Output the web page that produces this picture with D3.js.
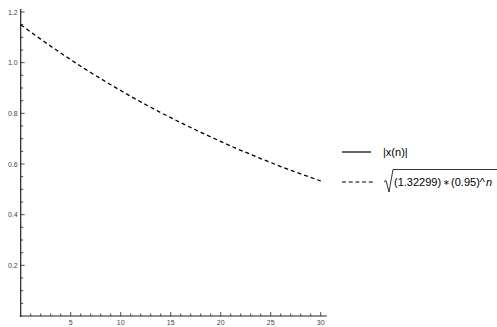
<!DOCTYPE html>
<html>
<head>
<meta charset="utf-8">
<script src="https://cdn.jsdelivr.net/npm/d3@7"></script>
<style>
  body { margin: 0; background: #fff; }
  svg { display: block; font-family: "Liberation Sans", Arial, sans-serif; }
</style>
</head>
<body>
<div class="chart"></div>
<script>
// values
let nValues = d3.range(0, 31);
let dashedValues = [1.150, 1.121, 1.093, 1.065, 1.038, 1.012, 0.986, 0.961, 0.937, 0.913,
  0.890, 0.867, 0.845, 0.824, 0.803, 0.783, 0.763, 0.744, 0.725, 0.707,
  0.689, 0.671, 0.654, 0.638, 0.621, 0.606, 0.590, 0.575, 0.561, 0.547, 0.533];
let solidValues = []; // |x(n)| is not visible in the plot
let xTickLabels = [5, 10, 15, 20, 25, 30];
let yTickLabels = [0.2, 0.4, 0.6, 0.8, 1.0, 1.2];
let legendLabels = ["|x(n)|", "(1.32299)", "\u2217", "(0.95)^", "n"];

let width = 497, height = 327;

let svg = d3.select(".chart").append("svg")
  .attr("width", width)
  .attr("height", height);

let x = d3.scaleLinear().domain([0, 30]).range([20.7, 320.7]);
let y = d3.scaleLinear().domain([0, 1.2]).range([316, 12]);

let axisColor = "#222";

// axis lines
svg.append("line")
  .attr("x1", x(0) - 1).attr("x2", x(30) + 6)
  .attr("y1", y(0)).attr("y2", y(0))
  .attr("stroke", axisColor).attr("stroke-width", 1.2);
svg.append("line")
  .attr("x1", x(0)).attr("x2", x(0))
  .attr("y1", y(0) + 1).attr("y2", y(1.2) - 3)
  .attr("stroke", axisColor).attr("stroke-width", 1.2);

// x ticks (inside)
let xMinor = d3.range(1, 31);
svg.selectAll(".xtick")
  .data(xMinor)
  .enter().append("line")
  .attr("class", "xtick")
  .attr("x1", d => x(d)).attr("x2", d => x(d))
  .attr("y1", y(0))
  .attr("y2", d => d % 5 == 0 ? y(0) - 4 : y(0) - 2.5)
  .attr("stroke", axisColor).attr("stroke-width", 0.8);

svg.selectAll(".xlabel")
  .data(xTickLabels)
  .enter().append("text")
  .attr("x", d => x(d))
  .attr("y", y(0) + 9)
  .attr("text-anchor", "middle")
  .attr("font-size", 7)
  .attr("fill", "#444")
  .text(d => d);

// y ticks (inside)
let yMinor = d3.range(1, 25).map(i => i * 0.05);
svg.selectAll(".ytick")
  .data(yMinor)
  .enter().append("line")
  .attr("class", "ytick")
  .attr("y1", d => y(d)).attr("y2", d => y(d))
  .attr("x1", x(0))
  .attr("x2", (d, i) => (i + 1) % 4 == 0 ? x(0) + 4 : x(0) + 2.5)
  .attr("stroke", axisColor).attr("stroke-width", 0.8);

svg.selectAll(".ylabel")
  .data(yTickLabels)
  .enter().append("text")
  .attr("x", x(0) - 3)
  .attr("y", d => y(d) + 2.5)
  .attr("text-anchor", "end")
  .attr("font-size", 7)
  .attr("fill", "#444")
  .text(d => d.toFixed(1));

// curves
let line = d3.line()
  .x((d, i) => x(nValues[i]))
  .y(d => y(d));

if (solidValues.length) {
  svg.append("path")
    .attr("d", line(solidValues))
    .attr("fill", "none")
    .attr("stroke", "#000")
    .attr("stroke-width", 1.3);
}

svg.append("path")
  .attr("d", line(dashedValues))
  .attr("fill", "none")
  .attr("stroke", "#000")
  .attr("stroke-width", 1.3)
  .attr("stroke-dasharray", "4,3");

// legend
let legend = svg.append("g");
legend.append("line")
  .attr("x1", 342).attr("x2", 371)
  .attr("y1", 152).attr("y2", 152)
  .attr("stroke", "#000").attr("stroke-width", 1.2);
legend.append("text")
  .attr("x", 383).attr("y", 156)
  .attr("font-size", 11)
  .text(legendLabels[0]);

legend.append("line")
  .attr("x1", 342).attr("x2", 374)
  .attr("y1", 182).attr("y2", 182)
  .attr("stroke", "#000").attr("stroke-width", 1.2)
  .attr("stroke-dasharray", "4,2.7");

// radical sign
legend.append("path")
  .attr("d", "M384,182 L386,180.5 L389,192 L393,169.5 L497,169.5")
  .attr("fill", "none")
  .attr("stroke", "#000")
  .attr("stroke-width", 0.8);

let t = legend.append("text")
  .attr("x", 394).attr("y", 186)
  .attr("font-size", 11);
t.append("tspan").text(legendLabels[1]);
t.append("tspan").attr("font-size", 8).attr("dx", 1.5).attr("dy", -1).text(legendLabels[2]);
t.append("tspan").attr("dx", 1.5).attr("dy", 1).text(legendLabels[3]);
t.append("tspan").attr("font-style", "italic").attr("dx", 1).text(legendLabels[4]);
</script>
</body>
</html>
